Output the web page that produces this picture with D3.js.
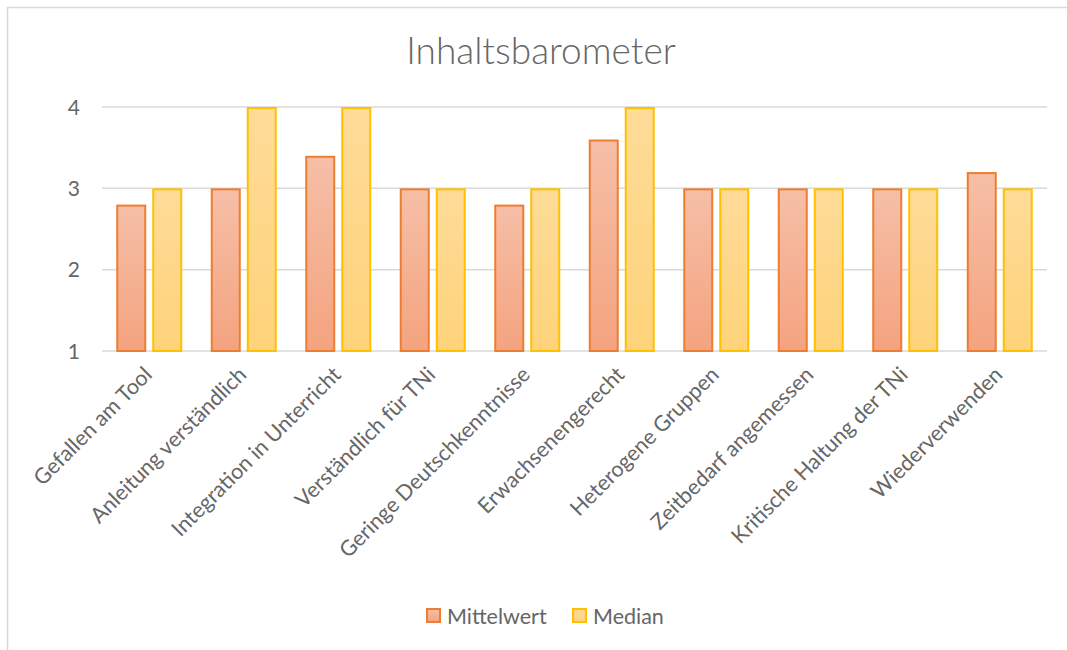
<!DOCTYPE html>
<html><head><meta charset="utf-8">
<script src="https://cdn.jsdelivr.net/npm/d3@7"></script>
<style>body{margin:0;background:#fff}svg{display:block}text{font-family:Lato,'Open Sans',sans-serif;fill:#666666}</style>
</head><body>
<svg id="c" width="1067" height="650"></svg>
<script>
const categories = ["Gefallen am Tool","Anleitung verständlich","Integration in Unterricht","Verständlich für TNi","Geringe Deutschkenntnisse","Erwachsenengerecht","Heterogene Gruppen","Zeitbedarf angemessen","Kritische Haltung der TNi","Wiederverwenden"];
const mittelwert = [2.8,3.0,3.4,3.0,2.8,3.6,3.0,3.0,3.0,3.2];
const median = [3,4,4,3,3,4,3,3,3,3];
const yTicks = [1,2,3,4];
const seriesNames = ["Mittelwert","Median"];

(function(){
const svg = d3.select("#c");
const defs = svg.append("defs");
const g1 = defs.append("linearGradient").attr("id","gO").attr("x1",0).attr("y1",0).attr("x2",0).attr("y2",1);
g1.append("stop").attr("offset",0).attr("stop-color","#F6BFA7");
g1.append("stop").attr("offset",1).attr("stop-color","#F4A37F");
const g2 = defs.append("linearGradient").attr("id","gY").attr("x1",0).attr("y1",0).attr("x2",0).attr("y2",1);
g2.append("stop").attr("offset",0).attr("stop-color","#FEDB98");
g2.append("stop").attr("offset",1).attr("stop-color","#FED37A");
const fills=["url(#gO)","url(#gY)"], strokes=["#ED7D31","#FFC000"];

// frame
svg.append("path").attr("d","M7.5,700V7.5H1100").attr("fill","none").attr("stroke","#D9D9D9").attr("stroke-width",1.5);

const pL=102,pR=1047,pT=107,pB=351;
const x = d3.scaleBand().domain(categories).range([pL,pR]);
const y = d3.scaleLinear().domain([1,4]).range([pB,pT]);
const xs = d3.scaleBand().domain(seriesNames).range([0,x.bandwidth()]).paddingInner(1/6).paddingOuter(0.396);

// grid
svg.append("g").selectAll("line").data(yTicks).join("line")
  .attr("x1",pL).attr("x2",pR).attr("y1",d=>y(d)).attr("y2",d=>y(d))
  .attr("stroke","#D9D9D9").attr("stroke-width",1.5);

// y labels
svg.append("g").selectAll("text").data(yTicks).join("text")
  .attr("x",80).attr("y",d=>y(d)).attr("dy","0.36em").attr("text-anchor","end")
  .style("font-size","21px").text(d=>d);

// bars
const series=[mittelwert,median];
series.forEach((vals,si)=>{
  svg.append("g").selectAll("rect").data(vals).join("rect")
    .attr("x",(d,i)=>x(categories[i])+xs(seriesNames[si])+1)
    .attr("width",xs.bandwidth()-2)
    .attr("y",d=>y(d)+1).attr("height",d=>y(1)-y(d)-1)
    .attr("fill",fills[si]).attr("stroke",strokes[si]).attr("stroke-width",2);
});

// x labels
svg.append("g").selectAll("text").data(categories).join("text")
  .attr("transform",d=>`translate(${x(d)+x.bandwidth()/2+4},${376}) rotate(-45)`)
  .attr("text-anchor","end").style("font-size","21.5px").text(d=>d);

// title
svg.append("text").attr("x",541).attr("y",64).attr("text-anchor","middle")
  .style("font-size","37px").style("font-weight","300").text("Inhaltsbarometer");

// legend
const lg = svg.append("g");
const items=[{n:"Mittelwert",x:427},{n:"Median",x:573}];
items.forEach((it,i)=>{
  lg.append("rect").attr("x",it.x).attr("y",609).attr("width",13).attr("height",13)
    .attr("fill",fills[i]).attr("stroke",strokes[i]).attr("stroke-width",2);
  lg.append("text").attr("x",it.x+20).attr("y",616).attr("dy","0.36em").style("font-size","21.5px").text(it.n);
});
})();
</script>
</body></html>
